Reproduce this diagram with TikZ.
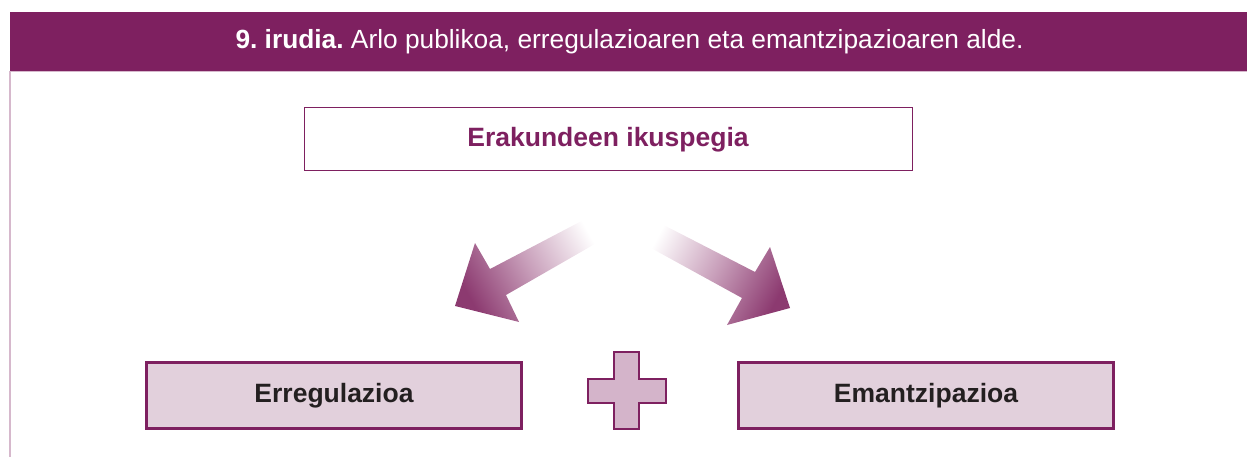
\documentclass[tikz,border=0pt]{standalone}
\usepackage{fontspec}
\setmainfont{Liberation Sans}
\frenchspacing
\definecolor{plum}{HTML}{7E2060}
\definecolor{plumlight}{HTML}{E2D0DC}
\definecolor{plusfill}{HTML}{D4B4CA}
\definecolor{edge}{HTML}{D6B8CC}
\definecolor{arrowdark}{HTML}{8C3A70}
\definecolor{arrowmid}{HTML}{C9A0BB}
\definecolor{txt}{HTML}{231F20}
\tikzset{
  topbox/.style={draw=plum, line width=1pt, fill=white, minimum width=608pt, minimum height=63pt, inner sep=0pt, font=\fontsize{26.5}{30}\selectfont\bfseries, text=plum},
  lowbox/.style={draw=plum, line width=3pt, fill=plumlight, minimum width=375pt, minimum height=66pt, inner sep=0pt, font=\fontsize{26.5}{30}\selectfont\bfseries, text=txt},
  bigarrow/.style={top color=white, bottom color=arrowdark, middle color=arrowmid},
}
\begin{document}
\begin{tikzpicture}[x=1pt,y=-1pt]
\useasboundingbox (0,0) rectangle (1247,457);
% header band
\fill[plum] (10,12) rectangle (1247,71);
\draw[edge, line width=0.8pt] (10,71) -- (1247,71);
\node[font=\fontsize{26.3}{30}\selectfont, text=white] (title) at (629.5,41.5) {\textbf{9. irudia.} Arlo publikoa, erregulazioaren eta emantzipazioaren alde.};
% left margin line
\draw[edge, line width=2pt] (10,71) -- (10,457);
% boxes
\node[topbox] (top) at (608,139.5) {Erakundeen ikuspegia};
\node[lowbox] (reg) at (334,395.5) {Erregulazioa};
\node[lowbox] (eman) at (926,395.5) {Emantzipazioa};
% arrows
\shade[bigarrow, shading angle=-61] (607,237) -- (506,295) -- (519,322) -- (455,306) -- (475,243) -- (490,269) -- (593,215) -- cycle;
\shade[bigarrow, shading angle=62] (650,218) -- (755,272) -- (770,247) -- (790,308) -- (727,325) -- (742,298) -- (640,242) -- cycle;
% plus
\node[inner sep=0pt, minimum size=0pt] (plus) at (627,390) {};
\draw[plum, line width=2pt, fill=plusfill]
  (614,352) -- (639,352) -- (639,379) -- (666,379) -- (666,403) -- (639,403) -- (639,429) -- (614,429) -- (614,403) -- (588,403) -- (588,379) -- (614,379) -- cycle;
\end{tikzpicture}
\end{document}
